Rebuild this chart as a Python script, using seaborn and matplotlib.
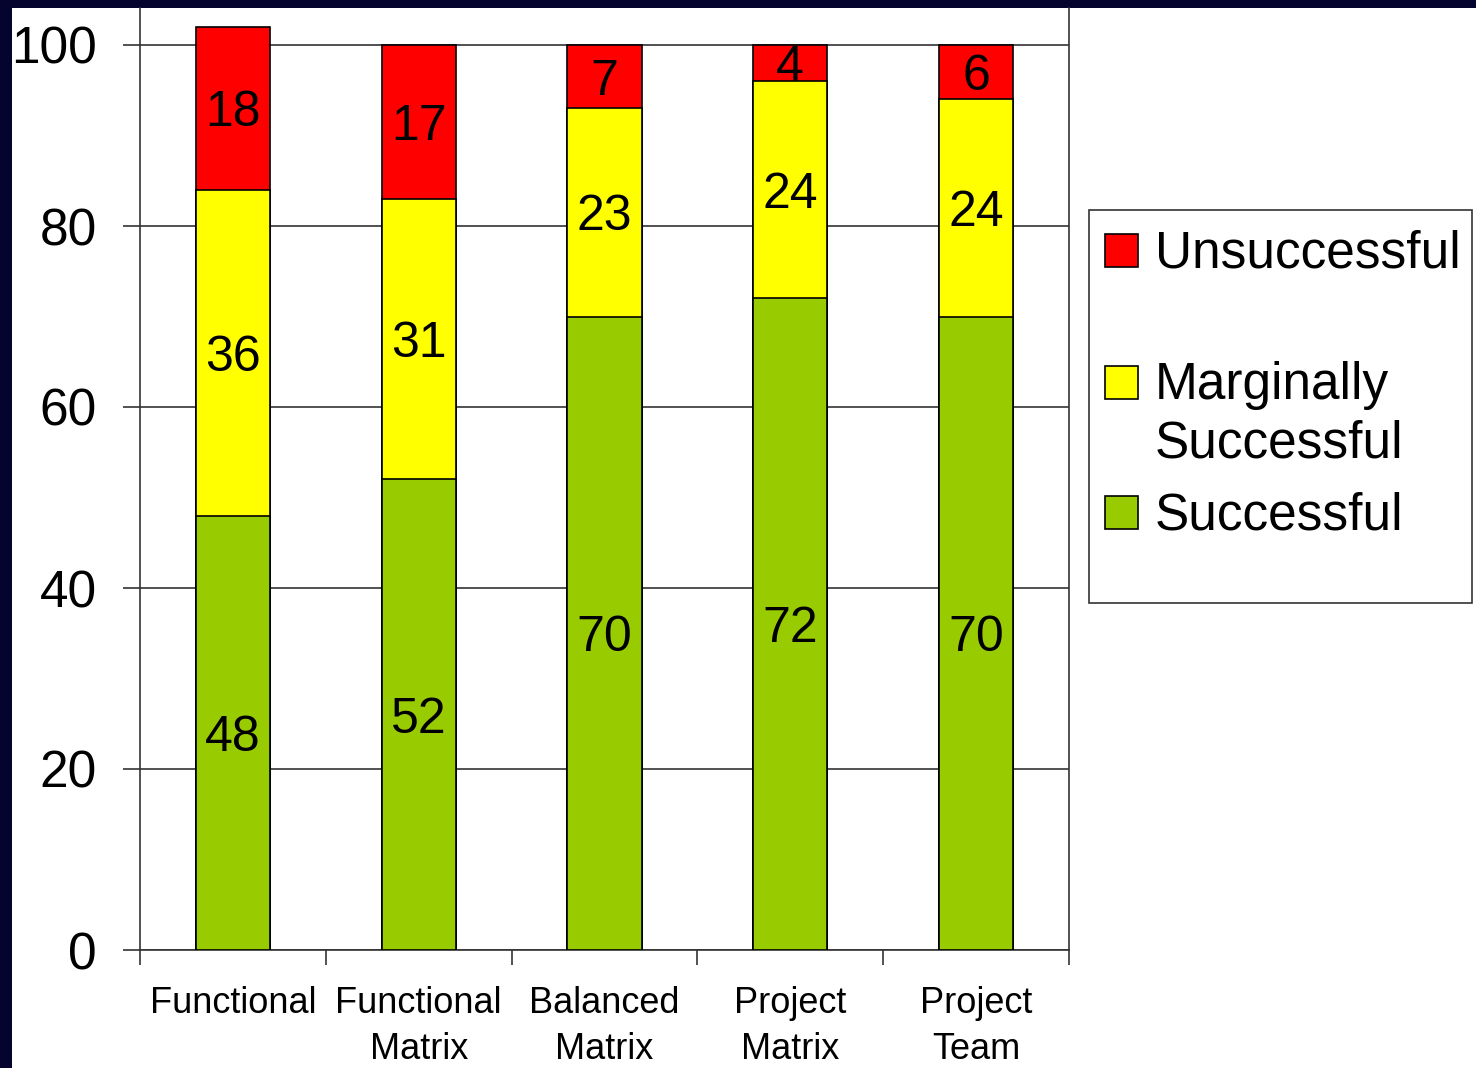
import matplotlib
matplotlib.use("Agg")
import matplotlib.pyplot as plt
from matplotlib.patches import Rectangle
import pandas as pd
import seaborn as sns

categories = ["Functional", "Functional\nMatrix", "Balanced\nMatrix", "Project\nMatrix", "Project\nTeam"]
successful = [48, 52, 70, 72, 70]
marginal = [36, 31, 23, 24, 24]
unsuccessful = [18, 17, 7, 4, 6]
legend_labels = ["Unsuccessful", "Marginally\nSuccessful", "Successful"]
yticks = [0, 20, 40, 60, 80, 100]

GREEN = "#99CC00"
YELLOW = "#FFFF00"
RED = "#FF0000"
LINE = "#333333"

sns.set_style("white")
plt.rcParams["font.family"] = ["Liberation Sans", "DejaVu Sans"]
plt.rcParams["text.color"] = "black"
plt.rcParams["xtick.labelcolor"] = "black"
plt.rcParams["ytick.labelcolor"] = "black"

df = pd.DataFrame({
    "category": categories,
    "successful": successful,
    "marginal": marginal,
    "unsuccessful": unsuccessful,
})
df["top_green"] = df["successful"]
df["top_yellow"] = df["successful"] + df["marginal"]
df["top_red"] = df["top_yellow"] + df["unsuccessful"]

W, H = 1476, 1068
fig = plt.figure(figsize=(W / 100, H / 100), dpi=100)
fig.patch.set_facecolor("#04042e")
fig.add_artist(Rectangle((12 / W, 0), 1, 1 - 8 / H, transform=fig.transFigure,
                         facecolor="white", edgecolor="none", zorder=0))

ax = fig.add_axes([140 / W, 1 - 950 / H, (1069 - 140) / W, (950 - 8) / H])
ax.set_facecolor("white")

# stacked bars drawn as cumulative layers, tallest first
for col, color in [("top_red", RED), ("top_yellow", YELLOW), ("top_green", GREEN)]:
    sns.barplot(data=df, x="category", y=col, color=color, saturation=1,
                width=0.4, edgecolor="black", linewidth=1.2, ax=ax, zorder=3)

for i in range(len(categories)):
    mids = [
        (successful[i] / 2, successful[i]),
        (successful[i] + marginal[i] / 2, marginal[i]),
        (successful[i] + marginal[i] + unsuccessful[i] / 2, unsuccessful[i]),
    ]
    for y, v in mids:
        ax.text(i, y, str(v), ha="center", va="center_baseline", fontsize=36,
                color="black", zorder=5)

ax.set_ylim(0, (950 - 8) / 9.05)
ax.set_xlim(-0.5, len(categories) - 0.5)
ax.set_yticks(yticks)
ax.set_xticks(range(len(categories)))
ax.set_xticklabels(categories)
ax.set_xticks([x - 0.5 for x in range(len(categories) + 1)], minor=True)
ax.set_xlabel("")
ax.set_ylabel("")

ax.yaxis.grid(True, color=LINE, linewidth=1.2)
ax.set_axisbelow(True)

ax.tick_params(axis="y", left=True, length=12, width=1.2, color=LINE, pad=19, labelsize=37)
ax.tick_params(axis="x", which="major", bottom=True, length=0, pad=26, labelsize=26)
ax.tick_params(axis="x", which="minor", bottom=True, length=11, width=1.2, color=LINE)
for lbl in ax.get_xticklabels():
    lbl.set_linespacing(1.4)

ax.spines["top"].set_visible(False)
for side in ["left", "bottom", "right"]:
    ax.spines[side].set_color(LINE)
    ax.spines[side].set_linewidth(1.2)

# legend box, Excel style
fig.add_artist(Rectangle((1089 / W, 1 - 603 / H), (1472 - 1089) / W, (603 - 210) / H,
                         transform=fig.transFigure, fill=False, edgecolor=LINE, linewidth=1.2))
legend_colors = [RED, YELLOW, GREEN]
handle_tops = [234, 366, 496]
for label, color, top in zip(legend_labels, legend_colors, handle_tops):
    fig.add_artist(Rectangle((1105 / W, 1 - (top + 33) / H), 33 / W, 33 / H,
                             transform=fig.transFigure, facecolor=color,
                             edgecolor="black", linewidth=1.2))
    for k, line in enumerate(label.split("\n")):
        fig.text(1155 / W, 1 - (top + 33 + k * 59) / H, line, fontsize=37,
                 ha="left", va="baseline")

fig.savefig("out.png", dpi=100, facecolor=fig.get_facecolor())
